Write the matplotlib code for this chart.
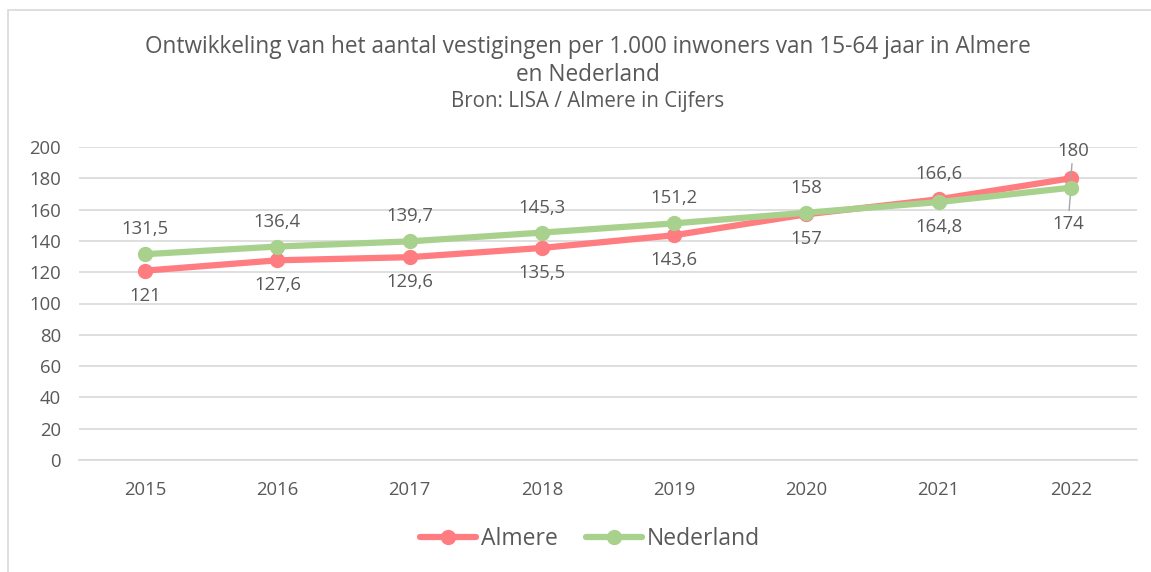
import matplotlib.pyplot as plt
from matplotlib.patches import Rectangle

plt.rcParams['font.family'] = ['Open Sans', 'DejaVu Sans']

years = ["2015", "2016", "2017", "2018", "2019", "2020", "2021", "2022"]
almere = [121, 127.6, 129.6, 135.5, 143.6, 157, 166.6, 180]
nederland = [131.5, 136.4, 139.7, 145.3, 151.2, 158, 164.8, 174]
# label placement: +1 above the point, -1 below
almere_pos = [-1, -1, -1, -1, -1, -1, 1, 1]
nederland_pos = [1, 1, 1, 1, 1, 1, -1, -1]

RED = "#FF7C80"
GREEN = "#A9D18E"
TXT = "#595959"
GRID = "#D9D9D9"

W, H = 1151, 572
fig = plt.figure(figsize=(W / 100, H / 100), dpi=100)

# chart border (only left and top visible in the crop)
fig.patches.append(Rectangle((8 / W, -0.1), 1.2, (H - 10) / H + 0.1,
                             transform=fig.transFigure, fill=False,
                             edgecolor=GRID, linewidth=1.2))

ax = fig.add_axes([79 / W, (H - 460) / H, (1137 - 79) / W, (460 - 147) / H])
x = list(range(len(years)))

ax.plot(x, almere, color=RED, lw=4.5, marker="o", ms=10, solid_capstyle="round",
        label="Almere", zorder=3)
ax.plot(x, nederland, color=GREEN, lw=4.5, marker="o", ms=10, solid_capstyle="round",
        label="Nederland", zorder=4)

ax.set_xlim(-0.5, len(years) - 0.5)
ax.set_ylim(0, 200)
ax.set_yticks(range(0, 201, 20))
ax.set_xticks(x)
ax.set_xticklabels(years)
ax.grid(axis="y", color=GRID, lw=1.2)
ax.set_axisbelow(True)
for s in ["left", "right", "top"]:
    ax.spines[s].set_visible(False)
ax.spines["bottom"].set_color(GRID)
ax.spines["bottom"].set_linewidth(1.2)
ax.tick_params(length=0, labelsize=13.3, colors=TXT)
ax.tick_params(axis="y", pad=13)
ax.tick_params(axis="x", pad=15)


def fmt(v):
    s = f"{v:.1f}".replace(".", ",")
    return s[:-2] if s.endswith(",0") else s


def add_labels(vals, pos):
    for i, (v, p) in enumerate(zip(vals, pos)):
        if i == len(vals) - 1:
            off = 20 if p > 0 else 26
            ax.annotate(fmt(v), (i, v), xytext=(1.5 if p > 0 else -2, p * off),
                        textcoords="offset points",
                        ha="center", va="center", fontsize=13.3, color=TXT,
                        arrowprops=dict(arrowstyle="-", color="#A6A6A6", lw=1,
                                        shrinkA=1, shrinkB=0))
        else:
            ax.annotate(fmt(v), (i, v), xytext=(0, p * 18), textcoords="offset points",
                        ha="center", va="center", fontsize=13.3, color=TXT)


add_labels(almere, almere_pos)
add_labels(nederland, nederland_pos)

fig.text(588 / W, (H - 47) / H, "Ontwikkeling van het aantal vestigingen per 1.000 inwoners van 15-64 jaar in Almere",
         ha="center", va="center", fontsize=16.3, color=TXT)
fig.text(588 / W, (H - 75) / H, "en Nederland", ha="center", va="center", fontsize=16.3, color=TXT)
fig.text(588 / W, (H - 102) / H, "Bron: LISA / Almere in Cijfers", ha="center", va="center",
         fontsize=14.8, color=TXT)

leg = fig.legend(loc="center", bbox_to_anchor=(590 / W, (H - 539) / H), ncol=2, frameon=False,
                 fontsize=16.5, handlelength=2.45, columnspacing=1.25, handletextpad=0.2)
for t in leg.get_texts():
    t.set_color(TXT)

fig.savefig("out.png", dpi=100)
